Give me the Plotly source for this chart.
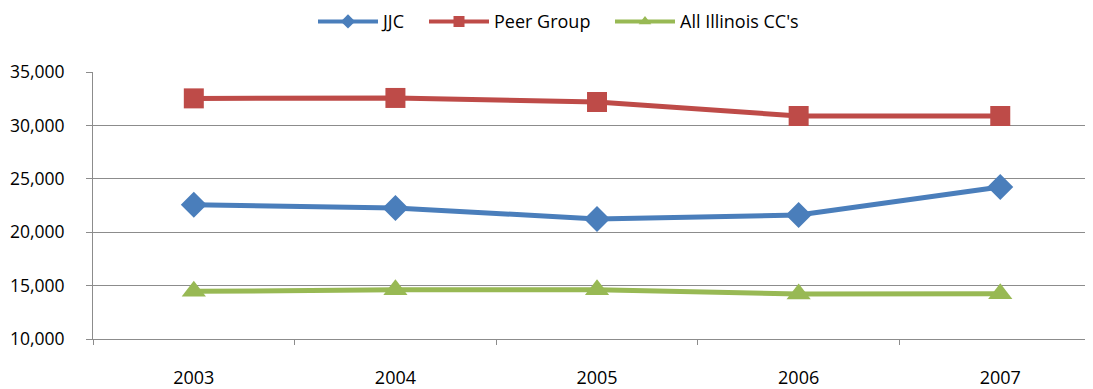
import plotly.graph_objects as go

years = ["2003", "2004", "2005", "2006", "2007"]
jjc = [22580, 22270, 21240, 21610, 24230]
peer = [32530, 32570, 32190, 30880, 30880]
illinois = [14460, 14610, 14600, 14210, 14230]

series = [
    ("JJC", jjc, "#4A7EBB", "diamond", 20, "legend"),
    ("Peer Group", peer, "#BE4B48", "square", 20, "legend2"),
    ("All Illinois CC's", illinois, "#98B954", "triangle-up", 21, "legend3"),
]

fig = go.Figure()
for name, vals, color, sym, size, lg in series:
    fig.add_trace(go.Scatter(
        x=years, y=vals, name=name, mode="lines+markers", showlegend=False,
        line=dict(color=color, width=5),
        marker=dict(symbol=sym, size=size, color=color, line=dict(width=0)),
    ))
# legend entries with smaller markers, as in the reference
for name, vals, color, sym, size, lg in series:
    fig.add_trace(go.Scatter(
        x=[None], y=[None], name=name, mode="lines+markers", showlegend=True,
        legend=lg,
        line=dict(color=color, width=4),
        marker=dict(symbol=sym, size=11, color=color, line=dict(width=0)),
    ))

FONT = "Open Sans, Lato, Liberation Sans, sans-serif"
OFF = 8  # page body margin
W, H = 1085, 381


def leg(px):
    return dict(orientation="h", xref="container", yref="container",
                x=(px - OFF) / W, xanchor="left",
                y=1 - (21.7 - OFF) / H, yanchor="middle",
                itemwidth=60, font=dict(size=18), bgcolor="rgba(0,0,0,0)")


fig.update_layout(
    width=W, height=H,
    margin=dict(l=85, r=0, t=64, b=50),
    paper_bgcolor="white", plot_bgcolor="white",
    font=dict(family=FONT, size=18, color="black"),
    showlegend=True,
    legend=leg(313), legend2=leg(424), legend3=leg(610),
    xaxis=dict(type="category", range=[-0.5, 4.46], showgrid=False,
               showline=True, linecolor="#8C8C8C", linewidth=1,
               ticks="outside", ticklen=5, tickcolor="#8C8C8C",
               tickson="boundaries", ticklabelstandoff=22, automargin=False),
    yaxis=dict(range=[10000, 35000], dtick=5000, tickformat=",d",
               tickfont=dict(size=17.5),
               showgrid=True, gridcolor="#8C8C8C", gridwidth=1,
               showline=True, linecolor="#8C8C8C", linewidth=1,
               ticks="outside", ticklen=6, tickcolor="#8C8C8C",
               ticklabelstandoff=18, zeroline=False, automargin=False),
)

fig.write_html("out.html")
